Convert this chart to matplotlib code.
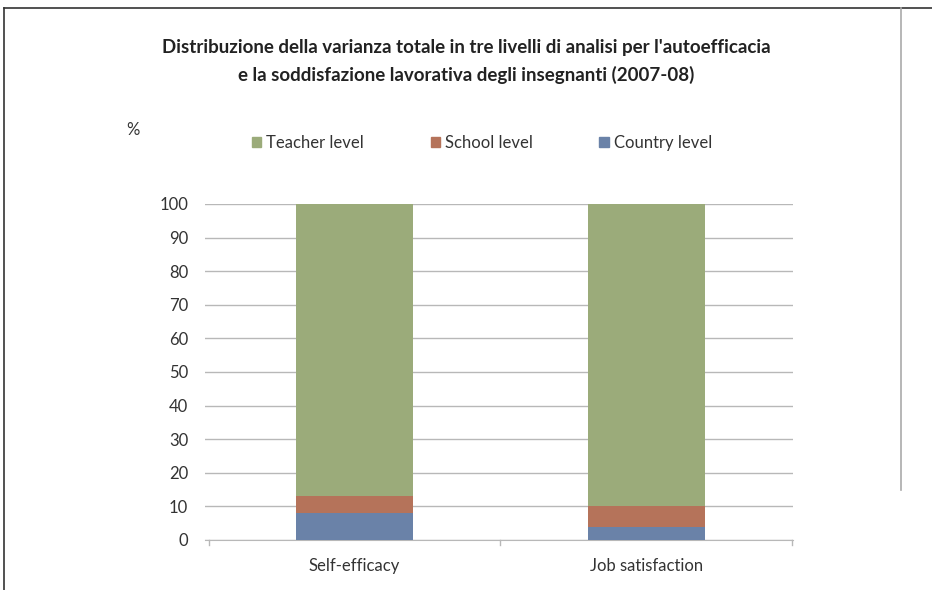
import matplotlib
matplotlib.use("Agg")
import matplotlib.pyplot as plt
from matplotlib.lines import Line2D
import numpy as np

categories = ["Self-efficacy", "Job satisfaction"]
country = [8, 4]
school = [5, 6]
teacher = [87, 90]
series_names = ["Teacher level", "School level", "Country level"]
yticks = [0, 10, 20, 30, 40, 50, 60, 70, 80, 90, 100]

c_teacher = "#9bab7a"
c_school = "#b5735a"
c_country = "#6a82a8"

plt.rcParams['font.family'] = ['Lato', 'DejaVu Sans']

fig = plt.figure(figsize=(9.32, 5.9), dpi=100)
W, H = 932, 590
ax = fig.add_axes([205 / W, 1 - 540 / H, 588 / W, 336 / H])

x = np.arange(len(categories))
bw = 0.4
ax.bar(x, country, bw, color=c_country, zorder=3)
ax.bar(x, school, bw, bottom=country, color=c_school, zorder=3)
bott = [a + b for a, b in zip(country, school)]
ax.bar(x, teacher, bw, bottom=bott, color=c_teacher, zorder=3)

ax.set_xlim(-0.512, len(categories) - 0.498)
ax.set_ylim(0, 100)
ax.set_yticks(yticks)
ax.set_yticklabels([str(v) for v in yticks], fontsize=12, color="#333333")
ax.yaxis.grid(True, color="#b8b8b8", linewidth=1, zorder=0)
ax.tick_params(axis='y', length=0, pad=12)
ax.set_xticks(x)
ax.set_xticklabels(categories, fontsize=12, color="#333333")
ax.tick_params(axis='x', length=0, pad=13)
# category boundary ticks
for b in np.arange(-0.5, len(categories), 1.0):
    ax.plot([b, b], [0, -1.5], color="#b8b8b8", lw=1, clip_on=False, zorder=2)
for s in ["left", "right", "top"]:
    ax.spines[s].set_visible(False)
ax.spines["bottom"].set_color("#b8b8b8")

fig.text(466 / W, 1 - 47 / H, "Distribuzione della varianza totale in tre livelli di analisi per l'autoefficacia",
         ha="center", va="center", fontsize=13.5, fontweight="bold", color="#222222")
fig.text(466 / W, 1 - 75 / H, "e la soddisfazione lavorativa degli insegnanti (2007-08)",
         ha="center", va="center", fontsize=13.5, fontweight="bold", color="#222222")
fig.text(133 / W, 1 - 130 / H, "%", ha="center", va="center", fontsize=12, color="#333333")

handles = [plt.Rectangle((0, 0), 1, 1, color=c) for c in [c_teacher, c_school, c_country]]
fig.legend(handles, series_names, loc="center", bbox_to_anchor=(482 / W, 1 - 143 / H), ncol=3,
           frameon=False, fontsize=12, handlelength=0.55, handleheight=0.55, handletextpad=0.3,
           columnspacing=4.0, labelcolor="#333333")

# page borders
fig.add_artist(Line2D([4 / W, 1], [1 - 8 / H, 1 - 8 / H], color="#333333", lw=1.2))
fig.add_artist(Line2D([4 / W, 4 / W], [0, 1 - 8 / H], color="#333333", lw=1.2))
fig.add_artist(Line2D([901 / W, 901 / W], [1 - 490 / H, 1 - 8 / H], color="#aaaaaa", lw=1.2))

fig.savefig("out.png", dpi=100)
